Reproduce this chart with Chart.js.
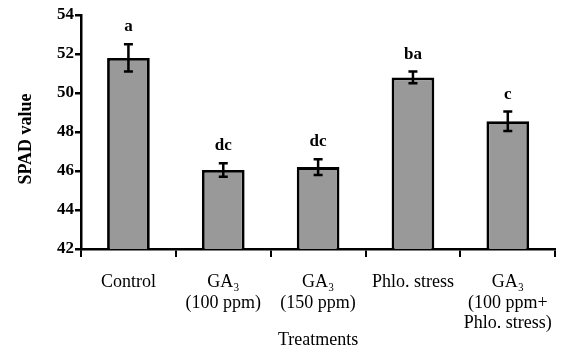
<!DOCTYPE html>
<html>
<head>
<meta charset="utf-8">
<script src="https://cdn.jsdelivr.net/npm/chart.js@4"></script>
<style>
  body { margin: 0; background: #fff; }
  #wrap { width: 567px; height: 351px; }
</style>
</head>
<body>
<div id="wrap"><canvas id="spad"></canvas></div>
<script>
// values
const treatments = [
    "Control",
    ["GA₃", "(100 ppm)"],
    ["GA₃", "(150 ppm)"],
    "Phlo. stress",
    ["GA₃", "(100 ppm+", "Phlo. stress)"]
];
const spadMeans = [51.8, 46.05, 46.2, 50.8, 48.55];
const spadErrors = [0.7, 0.35, 0.4, 0.3, 0.5];
const groupLetters = ["a", "dc", "dc", "ba", "c"];
const yTicks = [42, 44, 46, 48, 50, 52, 54];

const serif = "'Liberation Serif', 'Times New Roman', serif";

// error bars, letters and axis titles
const extras = {
    id: "extras",
    afterDatasetsDraw(chart) {
        const ctx = chart.ctx;
        const x = chart.scales.x;
        const y = chart.scales.y;
        ctx.save();
        ctx.strokeStyle = "#000";
        ctx.fillStyle = "#000";
        ctx.lineWidth = 2.5;
        for (let i = 0; i < spadMeans.length; i++) {
            let cx = x.getPixelForValue(i);
            let top = y.getPixelForValue(spadMeans[i] + spadErrors[i]);
            let bot = y.getPixelForValue(spadMeans[i] - spadErrors[i]);
            ctx.beginPath();
            ctx.moveTo(cx, top); ctx.lineTo(cx, bot);
            ctx.moveTo(cx - 4.5, top); ctx.lineTo(cx + 4.5, top);
            ctx.moveTo(cx - 4.5, bot); ctx.lineTo(cx + 4.5, bot);
            ctx.stroke();
            ctx.font = "bold 17px " + serif;
            ctx.textAlign = "center";
            ctx.textBaseline = "alphabetic";
            ctx.fillText(groupLetters[i], cx, top - 13);
        }
        // axis titles
        ctx.font = "18px " + serif;
        ctx.textAlign = "center";
        ctx.textBaseline = "middle";
        ctx.fillText("Treatments", (x.left + x.right) / 2, 340);
        ctx.translate(26, 139);
        ctx.rotate(-Math.PI / 2);
        ctx.font = "bold 18px " + serif;
        ctx.fillText("SPAD value", 0, 0);
        ctx.restore();
    }
};

new Chart(document.getElementById("spad"), {
    type: "bar",
    data: {
        labels: treatments,
        datasets: [{
            data: spadMeans,
            backgroundColor: "#999999",
            borderColor: "#000",
            borderWidth: 2.8,
            borderSkipped: false,
            barPercentage: 0.45,
            categoryPercentage: 1
        }]
    },
    options: {
        responsive: true,
        maintainAspectRatio: false,
        animation: false,
        layout: { padding: { top: 15, right: 2, left: 0, bottom: 0 } },
        plugins: { legend: { display: false }, tooltip: { enabled: false } },
        scales: {
            x: {
                grid: {
                    display: true, drawOnChartArea: false, offset: true,
                    tickLength: 8, color: "#000", lineWidth: 2
                },
                border: { color: "#000", width: 2.5 },
                ticks: {
                    color: "#000", padding: 15, maxRotation: 0, autoSkip: false,
                    font: { family: serif, size: 18, lineHeight: 1.15 }
                },
                afterFit(scale) { scale.height = 102; }
            },
            y: {
                min: 42, max: 54,
                grid: {
                    display: true, drawOnChartArea: false,
                    tickLength: 6, color: "#000", lineWidth: 2.5
                },
                border: { color: "#000", width: 2.5 },
                ticks: {
                    color: "#000", padding: 1,
                    font: { family: serif, size: 17, weight: "bold" }
                },
                afterBuildTicks(scale) {
                    scale.ticks = yTicks.map(v => ({ value: v }));
                },
                afterFit(scale) { scale.width = 81; }
            }
        }
    },
    plugins: [extras]
});
</script>
</body>
</html>
